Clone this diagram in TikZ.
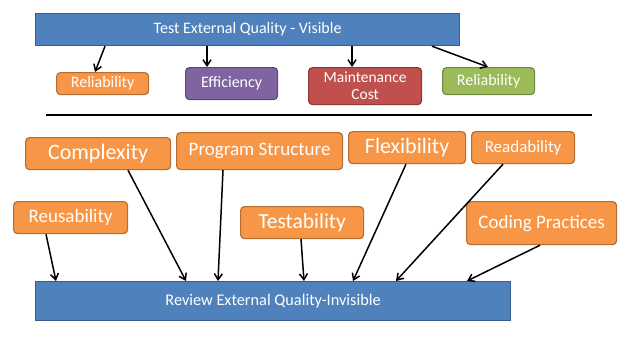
\documentclass[tikz,border=0pt]{standalone}
\usepackage{fontspec}
\setmainfont{Carlito}
\usepackage{xcolor}
\usepackage{tikz}
\usetikzlibrary{arrows.meta, positioning}
\definecolor{qBlue}{RGB}{79,129,189}
\definecolor{qBlueEdge}{RGB}{56,93,138}
\definecolor{qOrange}{RGB}{247,150,70}
\definecolor{qOrangeEdge}{RGB}{182,109,49}
\definecolor{qPurple}{RGB}{128,100,162}
\definecolor{qPurpleEdge}{RGB}{92,71,118}
\definecolor{qRed}{RGB}{192,80,77}
\definecolor{qRedEdge}{RGB}{140,56,54}
\definecolor{qGreen}{RGB}{155,187,89}
\definecolor{qGreenEdge}{RGB}{113,137,63}

\tikzset{
  qbox/.style={rectangle, anchor=north west, inner sep=0pt, line width=1.2pt,
               text=white, align=center},
  bar/.style={qbox, fill=qBlue, draw=qBlueEdge},
  tag/.style={qbox, rounded corners=4pt, fill=qOrange, draw=qOrangeEdge},
  flow/.style={-{Straight Barb[length=6pt,width=8pt]}, line width=1.5pt, black}
}

\begin{document}
\begin{tikzpicture}[x=1pt, y=-1pt]
\useasboundingbox (0,0) rectangle (627,357);

% test side
\node[bar, minimum width=424pt, minimum height=32pt, font=\fontsize{16}{18}\selectfont]
      (top) at (35,13) {Test External Quality - Visible};
\node[tag, minimum width=92pt, minimum height=22pt, font=\fontsize{16}{18}\selectfont]
      (rel1) at (56,72) {Reliability};
\node[tag, fill=qPurple, draw=qPurpleEdge, minimum width=92pt, minimum height=32pt,
      font=\fontsize{16}{18}\selectfont] (eff) at (185,67) {Efficiency};
\node[tag, fill=qRed, draw=qRedEdge, minimum width=113pt, minimum height=37pt,
      font=\fontsize{15.5}{17}\selectfont] (maint) at (308,67) {Maintenance\\Cost};
\node[tag, fill=qGreen, draw=qGreenEdge, minimum width=92pt, minimum height=27pt,
      font=\fontsize{16}{18}\selectfont] (rel2) at (442,67) {Reliability};

\draw[flow] ([xshift=70pt]top.south west) -- ([xshift=39pt]rel1.north west);
\draw[flow] ([xshift=172pt]top.south west) -- ([xshift=22pt]eff.north west);
\draw[flow] ([xshift=317pt]top.south west) -- ([xshift=44pt]maint.north west);
\draw[flow] ([xshift=397pt]top.south west) -- ([xshift=46pt]rel2.north west);

% divider
\draw[line width=2pt] (46,115) -- (592,115);

% review side
\node[tag, minimum width=145pt, minimum height=32pt, font=\fontsize{22}{24}\selectfont]
      (cplx) at (25,137) {Complexity};
\node[tag, minimum width=166pt, minimum height=37pt, font=\fontsize{19}{21}\selectfont]
      (prog) at (176,132) {Program Structure};
\node[tag, minimum width=117pt, minimum height=32pt, font=\fontsize{22}{24}\selectfont]
      (flex) at (348,131) {Flexibility};
\node[tag, minimum width=103pt, minimum height=32pt, font=\fontsize{17}{19}\selectfont]
      (read) at (471,131) {Readability};
\node[tag, minimum width=114pt, minimum height=32pt, font=\fontsize{19}{21}\selectfont]
      (reuse) at (13,201) {Reusability};
\node[tag, minimum width=123pt, minimum height=32pt, font=\fontsize{21.5}{23}\selectfont]
      (test) at (240,206) {Testability};
\node[tag, minimum width=150pt, minimum height=43pt, font=\fontsize{19}{21}\selectfont]
      (coding) at (466,201) {Coding Practices};
\node[bar, minimum width=475pt, minimum height=39pt, font=\fontsize{16.3}{18}\selectfont]
      (review) at (35,281) {Review External Quality-Invisible};

\draw[flow] ([xshift=33pt]reuse.south west) -- ([xshift=21pt]review.north west);
\draw[flow] ([xshift=103pt]cplx.south west) -- ([xshift=151pt]review.north west);
\draw[flow] ([xshift=47pt]prog.south west) -- ([xshift=183pt]review.north west);
\draw[flow] ([xshift=61pt]test.south west) -- ([xshift=269pt]review.north west);
\draw[flow] ([xshift=58pt]flex.south west) -- ([xshift=318pt]review.north west);
\draw[flow] ([xshift=32pt]read.south west) -- ([xshift=361pt]review.north west);
\draw[flow] ([xshift=74pt]coding.south west) -- ([xshift=432pt]review.north west);
\end{tikzpicture}
\end{document}
